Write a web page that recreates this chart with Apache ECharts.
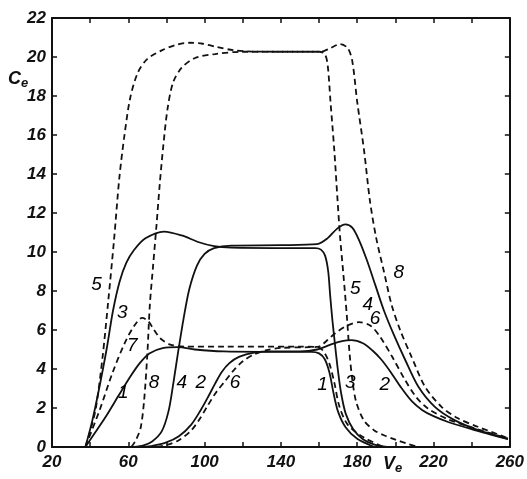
<!DOCTYPE html>
<html>
<head>
<meta charset="utf-8">
<script src="https://cdn.jsdelivr.net/npm/echarts@6/dist/echarts.min.js"></script>
<style>
html,body{margin:0;padding:0;background:#fff;}
#chart{width:527px;height:479px;}
</style>
</head>
<body>
<div id="chart"></div>
<script>
// ---- data (x = Ve, y = Ce) ----
var xTickLabels = [20, 60, 100, 140, 180, 220, 260];

var curve1 = [[37.5,0],[42,0.65],[48.5,1.6],[55,2.65],[61,3.6],[66,4.3],[71,4.8],[78,5.07],[86,5.12],[95,5.0],[110,4.9],[130,4.88],[156,4.88],[160,4.8],[163,4.5],[165.5,3.8],[167.5,2.8],[170,1.8],[174,1.0],[180,0.42],[189,0]];
var curve2 = [[65,0],[72,0.05],[79.6,0.22],[86.5,0.55],[93,1.15],[98,1.9],[102,2.6],[105.5,3.25],[109,3.85],[113,4.3],[118,4.62],[126,4.84],[135,4.9],[150,4.9],[159,5.0],[166,5.25],[172,5.43],[177,5.48],[183,5.32],[188,4.95],[192.5,4.5],[197.5,3.85],[203,3.05],[208.6,2.35],[214,1.9],[220,1.58],[228,1.27],[241.5,0.87],[250,0.64],[259,0.4]];
var curve3 = [[37.5,0],[41,1.3],[44.5,2.9],[48.6,5.0],[52,7.0],[55.5,8.5],[59,9.45],[63,10.1],[69,10.7],[78.7,11.05],[88,10.85],[97,10.5],[105,10.3],[114,10.22],[140,10.2],[158,10.2],[161,10.12],[163.2,9.8],[164.8,9.0],[165.8,7.8],[167,6.5],[168.3,5.3],[169.8,4.0],[171.5,2.8],[174,1.7],[178,0.9],[183,0.4],[189,0.12],[195.6,0]];
var curve4 = [[63,0],[68,0.08],[72.5,0.28],[77.5,0.8],[81,1.8],[83.5,3.2],[86,4.8],[89,6.6],[92,8.1],[96,9.3],[100,9.9],[105,10.2],[114,10.33],[140,10.35],[159,10.4],[164.4,10.7],[169.5,11.2],[173.8,11.42],[177.4,11.25],[181,10.6],[185,9.6],[189.5,8.3],[194,7.0],[199,5.8],[205,4.5],[212,3.1],[220.7,2.06],[231,1.38],[243,0.88],[251,0.65],[259,0.42]];
var curve5 = [[37.5,0],[40,0.8],[43,2.0],[46.5,4.6],[49.5,7.5],[52.5,10.6],[55.3,13.8],[58,16.0],[61,17.9],[65,19.2],[70,19.9],[77.8,20.35],[85,20.62],[92,20.73],[99,20.68],[106,20.52],[115,20.35],[125,20.28],[140,20.27],[160,20.27],[163,20.15],[164.5,19.6],[166,17.7],[168,15.2],[169.6,12.8],[171,10.8],[172.8,8.8],[174.5,6.8],[176,4.8],[177.5,3.4],[179.5,2.3],[183.6,1.35],[189,0.85],[194,0.6],[200,0.38],[206,0.18],[212,0]];
var curve6 = [[75,0],[80,0.1],[86.5,0.35],[93,0.85],[97.5,1.45],[101.5,2.1],[106,2.8],[110.5,3.35],[115,3.9],[120,4.4],[126,4.75],[132,4.95],[140,5.08],[155,5.12],[160,5.15],[164,5.45],[168,5.8],[175,6.24],[181,6.4],[187,6.22],[192,5.65],[198.5,4.6],[205,3.45],[211,2.55],[217,1.98],[227.6,1.42],[241.5,0.96],[250,0.7],[259,0.43]];
var curve7 = [[37.5,0],[45,1.9],[51.7,3.8],[58,5.3],[63,6.2],[67.3,6.62],[70.5,6.45],[73.5,6.0],[77,5.55],[82,5.25],[90,5.15],[110,5.15],[150,5.15],[160,5.1],[163,4.8],[165.5,4.25],[168,3.3],[170.6,2.1],[175,1.15],[183.6,0.48],[194,0]];
var curve8 = [[61.6,0],[64,0.36],[66.5,1.0],[68.3,2.4],[70,4.8],[71.3,7.3],[73,9.3],[74.8,11.4],[76.5,13.5],[78.3,15.4],[80.5,17.3],[83.5,18.7],[88,19.45],[95,19.95],[105.5,20.15],[119.4,20.27],[140,20.27],[161,20.27],[166,20.46],[171,20.66],[175,20.46],[177.4,19.8],[180,17.7],[183.6,15.2],[186.7,12.6],[190,10.7],[194,9.0],[198,7.3],[202.5,6.0],[208.6,4.6],[215.5,3.1],[224.2,2.06],[232.8,1.47],[243.2,1.04],[251,0.75],[259,0.45]];

// curve number labels: [x, y, text]
var curveLabels = [[43.4,8.3,'5'],[56.9,6.9,'3'],[62.1,5.2,'7'],[57.4,2.8,'1'],[73.5,3.3,'8'],[88,3.3,'4'],[98,3.3,'2'],[116,3.3,'6'],
  [201.8,8.95,'8'],[179,8.1,'5'],[185.6,7.3,'4'],[189.4,6.6,'6'],[161.8,3.2,'1'],[176.4,3.3,'3'],[194.5,3.2,'2']];

var solidCurves = {'1':curve1,'2':curve2,'3':curve3,'4':curve4};
var dashedCurves = {'5':curve5,'6':curve6,'7':curve7,'8':curve8};

var FONT = 'Liberation Sans';
var INK = '#111111';

function lineSeries(name, data, dashed){
  return {
    name: name, type: 'line', data: data, showSymbol: false, symbol: 'none',
    smooth: 0.3, silent: true,
    lineStyle: {color: INK, width: 1.8, type: dashed ? [6,4] : 'solid'},
    z: 3
  };
}

var series = [];
Object.keys(solidCurves).forEach(function(k){ series.push(lineSeries('c'+k, solidCurves[k], false)); });
Object.keys(dashedCurves).forEach(function(k){ series.push(lineSeries('c'+k, dashedCurves[k], true)); });
series.push({
  type: 'scatter', data: curveLabels, symbolSize: 1, silent: true,
  itemStyle: {opacity: 1, color: 'rgba(0,0,0,0)'},
  label: {show: true, position: 'inside', opacity: 1, formatter: function(p){ return p.value[2]; },
    fontFamily: FONT, fontStyle: 'italic', fontSize: 19, color: '#000'},
  z: 5
});

var axisCommon = {
  axisLine: {show: true, onZero: false, lineStyle: {color: INK, width: 2}},
  axisTick: {show: true, inside: true, length: 5, lineStyle: {color: INK, width: 1.5}},
  splitLine: {show: false}
};
var labelStyle = {fontFamily: FONT, fontStyle: 'italic', fontWeight: 'bold', fontSize: 17, color: INK};

var chart = echarts.init(document.getElementById('chart'), null, {renderer: 'canvas'});
chart.setOption({
  animation: false,
  backgroundColor: '#fff',
  grid: {left: 52, right: 14, top: 18, bottom: 32, containLabel: false},
  xAxis: [
    Object.assign({type: 'value', min: 20, max: 260, interval: 20, position: 'bottom',
      axisLabel: Object.assign({show: true, margin: 7, formatter: function(v){ return xTickLabels.indexOf(v) >= 0 ? String(v) : ''; }}, labelStyle)}, axisCommon),
    Object.assign({type: 'value', min: 20, max: 260, interval: 20, position: 'top', axisLabel: {show: false}}, axisCommon)
  ],
  yAxis: [
    Object.assign({type: 'value', min: 0, max: 22, interval: 2, position: 'left',
      axisLabel: Object.assign({show: true, margin: 6}, labelStyle)}, axisCommon),
    Object.assign({type: 'value', min: 0, max: 22, interval: 2, position: 'right', axisLabel: {show: false}}, axisCommon)
  ],
  graphic: [
    {type: 'text', left: 8, top: 70, style: {text: '{c|C}{e|e}', rich: {
      c: {fontFamily: FONT, fontStyle: 'italic', fontWeight: 'bold', fontSize: 18, fill: INK},
      e: {fontFamily: FONT, fontStyle: 'italic', fontWeight: 'bold', fontSize: 13, fill: INK, padding: [8,0,0,0]}
    }}},
    {type: 'text', left: 383, top: 455, style: {text: '{c|V}{e|e}', rich: {
      c: {fontFamily: FONT, fontStyle: 'italic', fontWeight: 'bold', fontSize: 18, fill: INK},
      e: {fontFamily: FONT, fontStyle: 'italic', fontWeight: 'bold', fontSize: 13, fill: INK, padding: [8,0,0,0]}
    }}}
  ],
  series: series
});
</script>
</body>
</html>
